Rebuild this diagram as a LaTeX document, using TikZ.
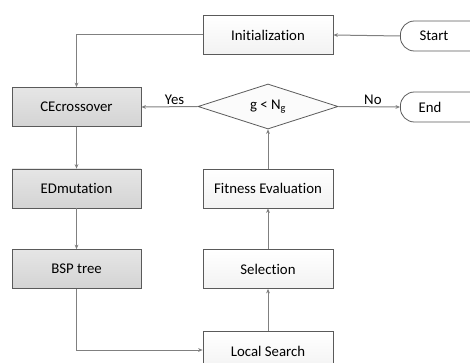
\documentclass[tikz,border=0pt]{standalone}
\usepackage{fontspec}
\setmainfont{Carlito}[Ligatures=NoCommon]
\usetikzlibrary{arrows.meta,shapes.geometric}
\definecolor{lineg}{HTML}{808080}
\definecolor{edgeg}{HTML}{5A5A5A}
\tikzset{
  darkbox/.style={draw=edgeg, line width=0.8pt, top color=gray!20, bottom color=gray!34,
    minimum width=129pt, minimum height=39pt, inner sep=0pt},
  lightbox/.style={draw=edgeg, line width=0.8pt, top color=white, bottom color=gray!10,
    minimum width=130pt, minimum height=39pt, inner sep=0pt},
  term/.style={draw=edgeg, line width=0.8pt, fill=white, rounded corners=14pt,
    minimum width=90pt, minimum height=30pt, inner sep=0pt, anchor=west},
  decision/.style={draw=edgeg, line width=0.8pt, fill=gray!3, diamond, aspect=3.1,
    minimum width=140pt, minimum height=45pt, inner sep=0pt},
  conn/.style={draw=lineg, line width=1pt, -{Stealth[length=4.5pt,width=3.8pt]}},
  lbl/.style={inner sep=1.5pt}
}
\begin{document}
\begin{tikzpicture}[x=1pt,y=-1pt,font=\fontsize{14.8}{17}\selectfont]
\clip (0,0) rectangle (470,363);
\useasboundingbox (0,0) rectangle (470,363);
\node[lightbox] (init) at (268,35) {Initialization};
\node[darkbox] (cex) at (76.5,107) {CEcrossover};
\node[darkbox] (edm) at (76.5,188.5) {EDmutation};
\node[darkbox] (bsp) at (76.5,269) {BSP tree};
\node[lightbox] (fit) at (268,188.5) {Fitness Evaluation};
\node[lightbox] (sel) at (268,269) {Selection};
\node[lightbox] (ls) at (268,351) {Local Search};
\node[decision] (dec) at (268,106.5) {g < N\textsubscript{g}};
\node[term] (start) at (400,36) {};
\node[lbl] (starttxt) at (434,36) {Start};
\node[term] (end) at (400,107) {};
\node[lbl] (endtxt) at (430,107) {End};
\coordinate (c1) at (76.5,35);
\coordinate (c2) at (76.5,350);
\draw[conn] (start.west) -- (init.east);
\draw[conn] (init.west) -- (c1) -- (cex.north);
\draw[conn] (dec.west) -- node[lbl, above, pos=0.41] (yes) {Yes} (cex.east);
\draw[conn] (dec.east) -- node[lbl, above, pos=0.56] (no) {No} (end.west);
\draw[conn] (cex.south) -- (edm.north);
\draw[conn] (edm.south) -- (bsp.north);
\draw[conn] (bsp.south) -- (c2) -- (ls.west |- c2);
\draw[conn] (ls.north) -- (sel.south);
\draw[conn] (sel.north) -- (fit.south);
\draw[conn] (fit.north) -- (dec.south);
\end{tikzpicture}
\end{document}
